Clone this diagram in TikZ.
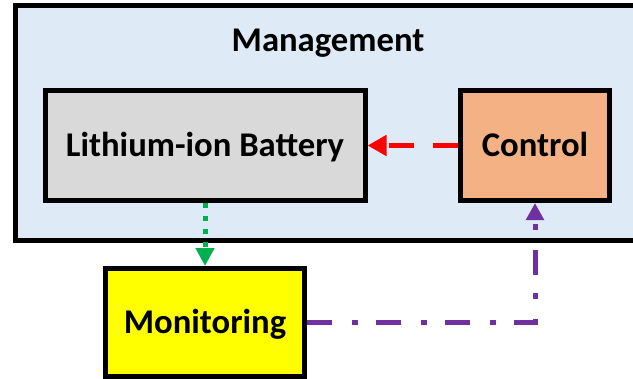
\documentclass[tikz,border=0pt]{standalone}
\usepackage{fontspec}
\setmainfont{Carlito}
\usetikzlibrary{arrows.meta}
\definecolor{mgmtblue}{HTML}{DEEBF7}
\definecolor{battgrey}{HTML}{D9D9D9}
\definecolor{ctrlorange}{HTML}{F4B183}
\definecolor{monyellow}{HTML}{FFFF00}
\definecolor{sensegreen}{HTML}{00B050}
\definecolor{feedpurple}{HTML}{7030A0}
\definecolor{cmdred}{HTML}{FF0000}
\begin{document}
\begin{tikzpicture}[x=0.75pt,y=-0.75pt,font=\fontsize{26}{31}\selectfont\bfseries]
\tikzstyle{box}=[draw,rectangle,line width=3.75pt,inner sep=0pt,text height=17pt,text depth=0pt]
\tikzstyle{link}=[line width=3.75pt]
\useasboundingbox (0,0) rectangle (633,379);
\node [box,fill=mgmtblue,minimum width=498.75pt,minimum height=176.25pt] (mgmt) at (347.5,123) {};
\node (title) at (328,43) {Management};
\node [box,fill=battgrey,minimum width=240pt,minimum height=82.5pt] (battery) at (205,145.5) {Lithium-ion Battery};
\node [box,fill=ctrlorange,minimum width=111.75pt,minimum height=82.5pt] (control) at (535,145.5) {Control};
\node [box,fill=monyellow,minimum width=149.25pt,minimum height=81pt] (monitor) at (205,322.5) {Monitoring};
% links between the blocks
\draw[link,cmdred,dash pattern=on 18.75pt off 14.25pt,-{Triangle[length=14.25pt,width=15pt]}]
    (control) -- (battery);
\draw[link,sensegreen,dash pattern=on 3.75pt off 6pt,-{Triangle[length=13.5pt,width=13.5pt]}]
    (battery) -- (monitor);
\draw[link,feedpurple,dash pattern=on 18.75pt off 15pt on 4.5pt off 13.5pt,-{Triangle[length=12.75pt,width=13pt]}]
    (monitor.east) -| (control.south);
\end{tikzpicture}
\end{document}
